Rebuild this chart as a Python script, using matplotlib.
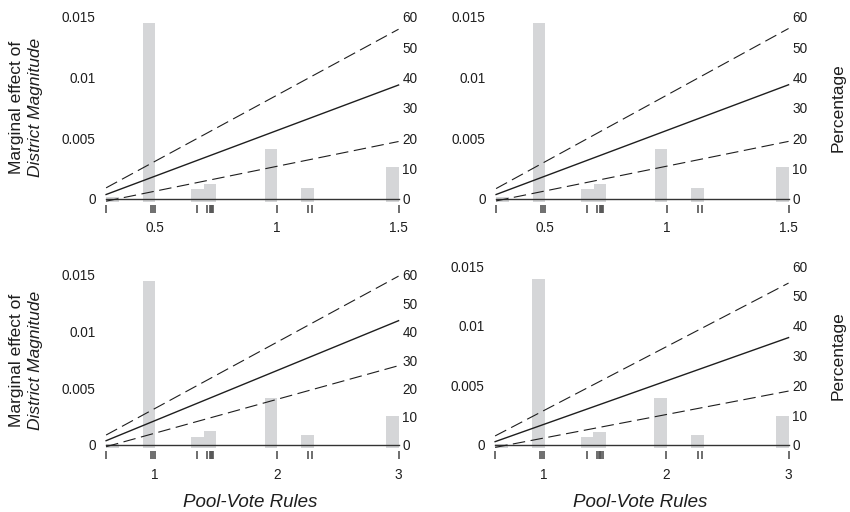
import matplotlib.pyplot as plt

plt.rcParams['font.family'] = ['Liberation Sans', 'DejaVu Sans']
plt.rcParams['lines.scale_dashes'] = False

# observed pool-vote values (bottom row scale; the top row uses half of it)
rug_vals = [0.6, 0.97, 0.985, 1.0, 1.35, 1.43, 1.45, 1.46, 1.47, 1.48,
            2.0, 2.26, 2.29, 3.0]
bin_left = [0.6, 0.9, 1.3, 1.4, 1.9, 2.2, 2.9]
bin_width = 0.105
pct_a = [0.4, 58.0, 3.0, 4.8, 16.5, 3.4, 10.3]
pct_b = [0.4, 55.5, 2.8, 4.5, 15.6, 3.2, 9.7]

x_ends = [0.6, 3.0]
# marginal effect of district magnitude and its 95% bounds at both ends
me_tl, hi_tl, lo_tl = [0.00033, 0.00938], [0.00088, 0.01399], [-0.00022, 0.00471]
me_tr, hi_tr, lo_tr = [0.00033, 0.00940], [0.00082, 0.01405], [-0.00020, 0.00472]
me_bl, hi_bl, lo_bl = [0.00038, 0.01097], [0.00088, 0.01490], [-0.00015, 0.00700]
me_br, hi_br, lo_br = [0.00028, 0.00900], [0.00076, 0.01357], [-0.00020, 0.00452]

top_ticks = [0.5, 1, 1.5]
top_labels = ['0.5', '1', '1.5']
bot_ticks = [1, 2, 3]
bot_labels = ['1', '2', '3']
left_ticks = [0, 0.005, 0.01, 0.015]
left_labels = ['0', '0.005', '0.01', '0.015']
right_ticks = [0, 10, 20, 30, 40, 50, 60]

W, H = 850, 512
ink = '#1e1e1e'
fig = plt.figure(figsize=(W / 100, H / 100), dpi=100)


def panel(left, width, zero_px, scale, half, me, hi, lo, pct, left_title, right_title, xlabel):
    u = 0.015 / scale  # data units per pixel
    ymin, ymax = -14 * u, 0.0152
    top_px = zero_px - ymax / u
    bottom_px = zero_px + 14
    ax = fig.add_axes([left / W, 1 - bottom_px / H, width / W, (bottom_px - top_px) / H])
    ax2 = ax.twinx()
    ax.set_zorder(ax2.get_zorder() + 1)
    ax.patch.set_visible(False)

    k = 0.5 if half else 1.0
    xs = [v * k for v in x_ends]

    ax2.bar([b * k for b in bin_left], [p + 1 for p in pct], width=bin_width * k,
            bottom=-1, align='edge', color='#d5d6d8', linewidth=0)

    ax.plot(xs, [0, 0], color='#333333', lw=1.0)
    ax.plot(xs, me, color=ink, lw=1.0)
    ax.plot(xs, hi, color=ink, lw=0.8, dashes=(9, 4))
    ax.plot(xs, lo, color=ink, lw=0.8, dashes=(9, 4))
    ax.vlines([v * k for v in rug_vals], -14 * u, -6 * u, color='#555555', lw=1.2)

    if half:
        ax.set_xlim(0.275, 1.51)
        ax.set_xticks(top_ticks, top_labels)
    else:
        ax.set_xlim(0.55, 3.02)
        ax.set_xticks(bot_ticks, bot_labels)
    ax.set_ylim(ymin, ymax)
    ax2.set_ylim(ymin * 4000, ymax * 4000)
    ax.set_yticks(left_ticks, left_labels)
    ax2.set_yticks(right_ticks)

    for a in (ax, ax2):
        for s in a.spines.values():
            s.set_visible(False)
        a.tick_params(length=0, labelsize=9.8, labelcolor=ink)
    ax.tick_params(axis='x', pad=6.3)
    ax.tick_params(axis='y', pad=3)
    ax2.tick_params(axis='y', pad=1)

    yc = 1 - (zero_px - scale / 2) / H
    if left_title:
        fig.text(17 / W, yc, 'Marginal effect of', rotation=90, ha='center', va='center',
                 fontsize=12.5, color=ink)
        fig.text(36 / W, yc, 'District Magnitude', rotation=90, ha='center', va='center',
                 fontsize=12.5, style='italic', color=ink)
    if right_title:
        fig.text(838 / W, yc, 'Percentage', rotation=90, ha='center', va='center',
                 fontsize=12.5, color=ink)
    if xlabel:
        ax.set_xlabel('Pool-Vote Rules', style='italic', fontsize=13.5, color=ink, labelpad=9)
    return ax


panel(100, 301, 198.5, 181.5, True, me_tl, hi_tl, lo_tl, pct_a, True, False, False)
panel(490, 301, 198.5, 181.5, True, me_tr, hi_tr, lo_tr, pct_a, False, True, False)
panel(100, 301, 445, 170, False, me_bl, hi_bl, lo_bl, pct_a, True, False, True)
panel(489, 302, 445, 179, False, me_br, hi_br, lo_br, pct_b, False, True, True)

fig.savefig('out.png', dpi=100)
